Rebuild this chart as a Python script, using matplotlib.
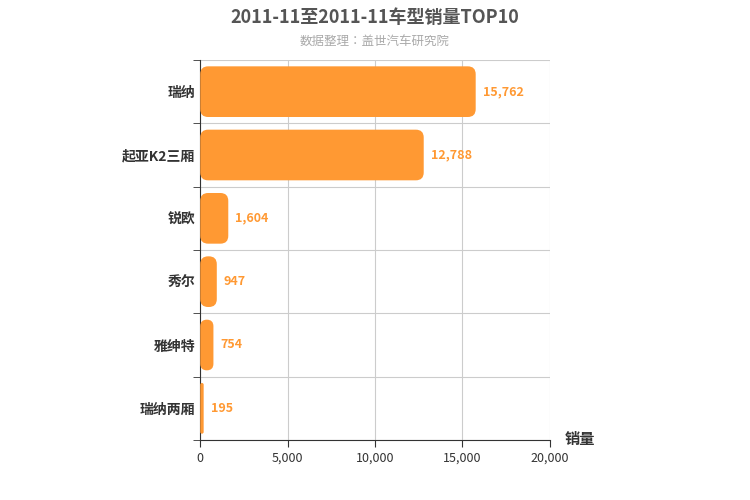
import matplotlib
matplotlib.use("Agg")
import matplotlib.pyplot as plt
from matplotlib import font_manager as fm
from matplotlib.patches import FancyBboxPatch

cjk = None
for f in fm.findSystemFonts():
    if "CJK" in f or "cjk" in f.lower():
        try:
            fm.fontManager.addfont(f)
        except Exception:
            pass
names = sorted({e.name for e in fm.fontManager.ttflist if "CJK" in e.name})
for pref in ["Noto Sans CJK SC", "Noto Sans CJK JP", "Noto Sans CJK TC", "Noto Sans CJK KR"]:
    if pref in names:
        cjk = pref
        break
if cjk is None and names:
    cjk = names[0]
plt.rcParams["font.family"] = [cjk, "DejaVu Sans"] if cjk else ["DejaVu Sans"]

categories = ["瑞纳", "起亚K2三厢", "锐欧", "秀尔", "雅绅特", "瑞纳两厢"]
values = [15762, 12788, 1604, 947, 754, 195]
xticks = [0, 5000, 10000, 15000, 20000]

fig = plt.figure(figsize=(7.5, 5), dpi=100)
ax = fig.add_axes([0.267, 0.12, 0.466, 0.76])
color = "#ff9933"
n = len(categories)
ax.set_xlim(0, 20000)
ax.set_ylim(n - 0.5, -0.5)
h = 0.8
r = 450
asp = (6 / 380) / (20000 / 350)
for i, v in enumerate(values):
    p = FancyBboxPatch((0, i - h / 2), v, h,
                       boxstyle=f"round,pad=0,rounding_size={min(r, v/2)}",
                       mutation_aspect=asp, fc=color, ec="none", zorder=3)
    ax.add_patch(p)
    ax.text(v + 400, i, f"{v:,}", va="center", ha="left", color=color,
            fontsize=9, fontweight="bold", zorder=4)

ax.set_yticks(range(n))
ax.set_yticklabels(categories, fontsize=10, fontweight="bold", color="#333333")
ax.set_yticks([k - 0.5 for k in range(n + 1)], minor=True)
ax.set_xticks(xticks)
ax.set_xticklabels([f"{t:,}" for t in xticks], fontsize=9, color="#333333")
ax.grid(True, which="minor", axis="y", color="#cccccc", lw=0.8)
ax.grid(True, which="major", axis="x", color="#cccccc", lw=0.8)
ax.tick_params(axis="y", which="major", length=0)
ax.tick_params(axis="y", which="minor", length=5, color="#333333")
ax.tick_params(axis="x", length=5, color="#333333")
for s in ["top", "right"]:
    ax.spines[s].set_visible(False)
ax.spines["left"].set_color("#333333")
ax.spines["bottom"].set_color("#333333")
ax.set_axisbelow(True)

fig.text(0.5, 0.965, "2011-11至2011-11车型销量TOP10", ha="center", va="center",
         fontsize=13, fontweight="bold", color="#555555")
fig.text(0.5, 0.918, "数据整理：盖世汽车研究院", ha="center", va="center",
         fontsize=9, color="#aaaaaa")
fig.text(0.753, 0.122, "销量", ha="left", va="center", fontsize=11,
         fontweight="bold", color="#333333")

fig.savefig("out.png", dpi=100)
